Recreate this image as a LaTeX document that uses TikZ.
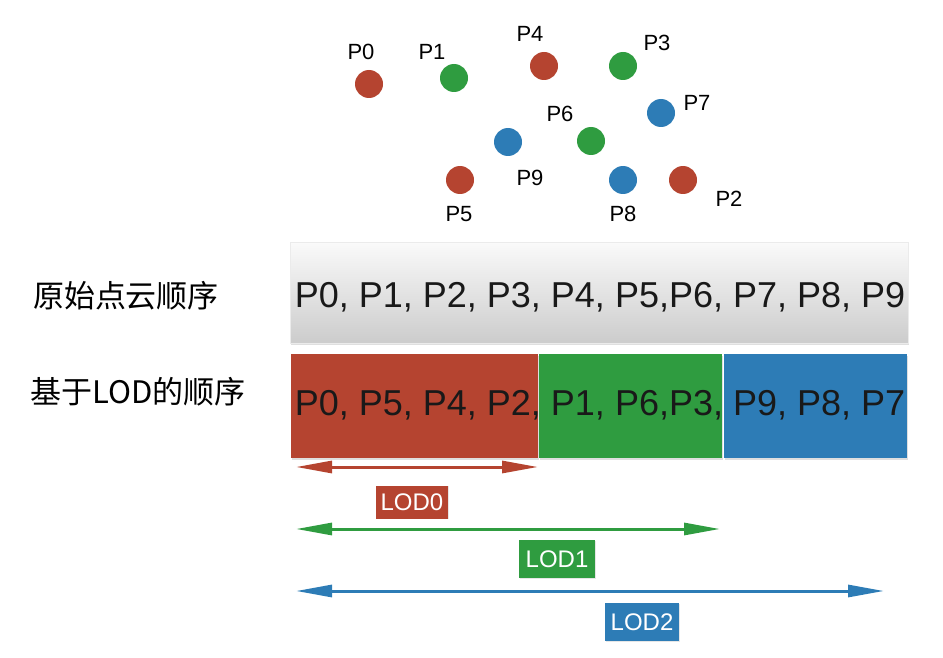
\documentclass[tikz,border=0pt]{standalone}
\usepackage{fontspec}
\setmainfont{Liberation Sans}
\newfontfamily\cjk{Noto Sans CJK SC}
\usetikzlibrary{arrows.meta,shadows}
\definecolor{lodred}{RGB}{181,68,48}
\definecolor{lodgreen}{RGB}{47,156,64}
\definecolor{lodblue}{RGB}{45,124,182}
\tikzset{
  dot/.style={circle,inner sep=0pt,minimum size=28pt,draw=none},
  plabel/.style={font=\fontsize{22}{26}\selectfont,inner sep=0pt,text=black},
  barbox/.style={anchor=north west,inner sep=0pt,minimum height=104pt,draw=none,
    drop shadow={opacity=0.25,shadow xshift=1pt,shadow yshift=-1.5pt}},
  bartext/.style={font=\fontsize{36}{40}\selectfont,inner sep=0pt,text=black!90},
  cjklabel/.style={font=\cjk\fontsize{31}{36}\selectfont,inner sep=0pt},
  lodarrow/.style={line width=3pt,{Triangle[length=36pt,width=12pt]}-{Triangle[length=36pt,width=12pt]}},
  lodtag/.style={font=\fontsize{24}{28}\selectfont,text=white,inner sep=0pt,
    minimum height=35pt,minimum width=74pt,
    drop shadow={opacity=0.2,shadow xshift=0.8pt,shadow yshift=-0.8pt}}
}
\begin{document}
\begin{tikzpicture}[x=1pt,y=-1pt]
\useasboundingbox (0,0) rectangle (943,658);
% points
\node[dot,fill=lodred]   (d0) at (369,84) {};
\node[dot,fill=lodgreen] (d1) at (454,78) {};
\node[dot,fill=lodred]   (d4) at (544,66) {};
\node[dot,fill=lodgreen] (d3) at (623,66) {};
\node[dot,fill=lodblue]  (d7) at (661,113) {};
\node[dot,fill=lodgreen] (d6) at (591,141) {};
\node[dot,fill=lodblue]  (d9) at (508,142) {};
\node[dot,fill=lodred]   (d5) at (460,180) {};
\node[dot,fill=lodblue]  (d8) at (623,180) {};
\node[dot,fill=lodred]   (d2) at (683,180) {};
\node[plabel] (l0) at (361,52) {P0};
\node[plabel] (l1) at (432,52) {P1};
\node[plabel] (l4) at (530,34) {P4};
\node[plabel] (l3) at (657,43) {P3};
\node[plabel] (l7) at (697,103) {P7};
\node[plabel] (l6) at (560,114) {P6};
\node[plabel] (l9) at (530,178) {P9};
\node[plabel] (l5) at (459,214) {P5};
\node[plabel] (l8) at (623,214) {P8};
\node[plabel] (l2) at (729,199) {P2};
% bars
\node[barbox,minimum width=618pt,minimum height=101pt,top color=black!2,bottom color=black!20,draw=black!8] (gbar) at (290,242) {};
\node[bartext] (gtext) at (600,297) {P0, P1, P2, P3, P4, P5,P6, P7, P8, P9};
\node[barbox,minimum width=247pt,fill=lodred] (rbar) at (291,354) {};
\node[barbox,minimum width=183pt,fill=lodgreen] (gnbar) at (539,354) {};
\node[barbox,minimum width=183pt,fill=lodblue] (bbar) at (724,354) {};
\node[bartext] (ctext) at (600,405) {P0, P5, P4, P2, P1, P6,P3, P9, P8, P7};
% row titles
\node[cjklabel] (t1) at (126,296) {原始点云顺序};
\node[cjklabel] (t2) at (138,392) {基于LOD的顺序};
% arrows
\coordinate (a0s) at (296,467); \coordinate (a0e) at (538,467);
\coordinate (a1s) at (296,529); \coordinate (a1e) at (720,529);
\coordinate (a2s) at (296,591); \coordinate (a2e) at (884,591);
\draw[lodarrow,draw=lodred,fill=lodred] (a0s) -- (a0e);
\draw[lodarrow,draw=lodgreen,fill=lodgreen] (a1s) -- (a1e);
\draw[lodarrow,draw=lodblue,fill=lodblue] (a2s) -- (a2e);
\node[lodtag,fill=lodred,minimum width=72pt,minimum height=33pt] (lod0) at (412,502) {LOD0};
\node[lodtag,fill=lodgreen,minimum width=76pt,minimum height=38pt] (lod1) at (557,559) {LOD1};
\node[lodtag,fill=lodblue,minimum width=74pt,minimum height=38pt] (lod2) at (642,622) {LOD2};
\end{tikzpicture}
\end{document}
